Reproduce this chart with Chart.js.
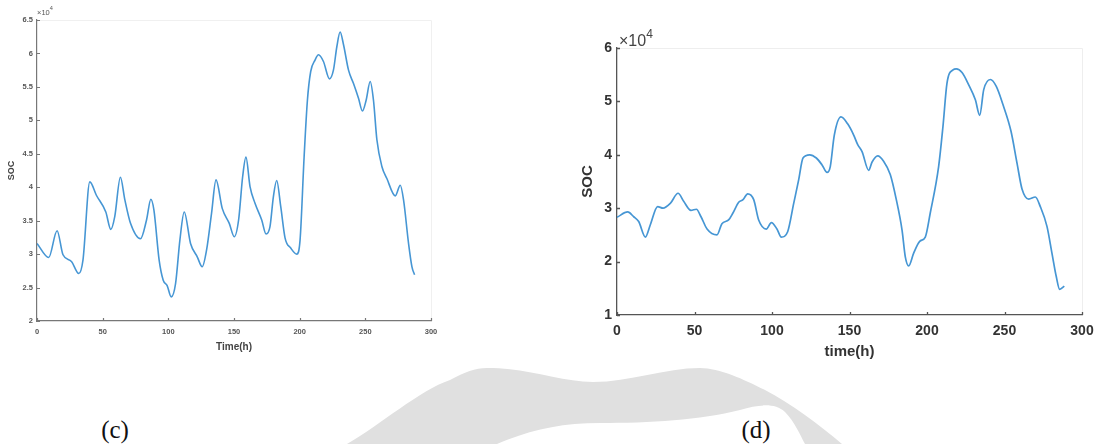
<!DOCTYPE html>
<html>
<head>
<meta charset="utf-8">
<script src="https://cdn.jsdelivr.net/npm/chart.js@4.4.1/dist/chart.umd.min.js"></script>
<style>
  html, body { margin: 0; padding: 0; background: #fff; }
  body { width: 1095px; height: 444px; position: relative; overflow: hidden; font-family: "Liberation Sans", Arial, sans-serif; }
  canvas { position: absolute; }
  #chartC { left: 0; top: 0; }
  #chartD { left: 560px; top: 0; }
  .exp { position: absolute; color: #555; white-space: nowrap; }
  .exp sup { font-size: 75%; position: relative; top: -0.15em; }
  .cap { position: absolute; font-family: "Liberation Serif", "Times New Roman", serif; font-size: 25px; color: #111; transform: translate(-50%, -50%); }
  #mark { position: absolute; left: 0; top: 0; }
</style>
</head>
<body>
<svg id="mark" width="1095" height="444">
  <path d="M347,444 C380,425 420,390 450,380 C465,372 475,368 487,368 C530,368 560,382 593,382 C630,382 665,368 700,368 C720,368 745,380 765,390 C790,403 820,425 842,444 L805,444 C800,435 795,422 785,412 C775,403 760,404 740,410 C700,420 650,423 600,423 C560,423 530,430 497,444 Z" fill="#e0e0e0"/>
</svg>
<canvas id="chartC" width="450" height="360"></canvas>
<canvas id="chartD" width="535" height="380"></canvas>
<div class="exp" style="left:37px; top:6px; font-size:7.5px;">×10<sup>4</sup></div>
<div class="exp" style="left:619px; top:29px; font-size:16px; color:#444;">×10<sup>4</sup></div>
<div class="cap" style="left:115px; top:430px;">(c)</div>
<div class="cap" style="left:756px; top:430px;">(d)</div>
<script>
// Panel (c): SOC over time (values in units of 1e4)
const timeC = [0, 8.9, 15.3, 19.8, 26.2, 31.8, 35, 40.2, 45.2, 52.4, 56.2, 59.2, 63.5, 66.9, 71.2, 78.8, 83.4, 86.7, 89, 93, 96.1, 99.1, 102.2, 105.5, 108.8, 112.1, 116.9, 122, 125.8, 129.1, 132.9, 136.3, 141.1, 146.4, 150.2, 153.5, 156.6, 159.1, 162.2, 166, 171.1, 174.4, 177.4, 180, 182.5, 185.6, 188.9, 193.2, 197.8, 200.3, 203.4, 205.9, 208.4, 211.7, 214.3, 218.1, 222.7, 225.7, 228.3, 230.8, 233.4, 237.2, 241, 244.8, 247.8, 250.6, 253.7, 256.2, 258.8, 262.6, 266.4, 272.8, 276.6, 279.1, 282.9, 285.5, 287.5];
const socC = [3.16, 2.95, 3.35, 2.99, 2.89, 2.71, 2.91, 4.08, 3.88, 3.63, 3.37, 3.56, 4.15, 3.81, 3.46, 3.23, 3.51, 3.82, 3.66, 2.91, 2.61, 2.53, 2.36, 2.56, 3.21, 3.63, 3.16, 2.96, 2.81, 3.06, 3.61, 4.11, 3.68, 3.46, 3.26, 3.51, 4.16, 4.45, 4.01, 3.76, 3.51, 3.30, 3.41, 3.86, 4.10, 3.71, 3.24, 3.09, 3.00, 3.21, 4.46, 5.30, 5.73, 5.90, 5.98, 5.88, 5.62, 5.75, 6.10, 6.32, 6.13, 5.75, 5.55, 5.33, 5.14, 5.30, 5.58, 5.30, 4.71, 4.31, 4.13, 3.87, 4.03, 3.81, 3.16, 2.81, 2.69];

// Panel (d): SOC over time (values in units of 1e4)
const timeD = [0, 6.9, 10.8, 14, 18.3, 21.5, 26.2, 29.7, 34.4, 39.4, 43, 47.7, 51.2, 54.2, 58.1, 64.5, 67.7, 72, 74.8, 78.5, 81.3, 84.3, 88.2, 91.4, 96.3, 99.6, 103.2, 106, 110.1, 114, 117.2, 120, 124.3, 128.6, 132.3, 135.5, 137.6, 140.2, 144.5, 148.8, 152.7, 155.3, 158.1, 162.4, 164.5, 168.2, 172, 176.3, 180.2, 183.9, 186, 188.2, 191.4, 195.3, 198.9, 202.1, 207.5, 210.3, 212.9, 216.8, 218.9, 222.6, 226.9, 231.2, 234, 236.6, 240.9, 244.7, 249, 254.2, 258.1, 261.3, 265.6, 269.9, 273.1, 277.4, 280.6, 283.4, 285.6, 288.6];
const socD = [2.83, 2.93, 2.84, 2.75, 2.46, 2.69, 3.03, 3.00, 3.09, 3.28, 3.13, 2.96, 2.98, 2.84, 2.61, 2.50, 2.71, 2.78, 2.91, 3.11, 3.16, 3.27, 3.16, 2.78, 2.61, 2.73, 2.61, 2.46, 2.56, 3.09, 3.53, 3.94, 4.00, 3.94, 3.81, 3.67, 3.78, 4.37, 4.71, 4.58, 4.37, 4.19, 4.06, 3.71, 3.86, 3.98, 3.88, 3.63, 3.16, 2.59, 2.09, 1.92, 2.16, 2.38, 2.46, 2.91, 3.78, 4.53, 5.34, 5.59, 5.61, 5.54, 5.31, 5.03, 4.74, 5.22, 5.41, 5.28, 4.94, 4.44, 3.84, 3.36, 3.17, 3.21, 3.03, 2.66, 2.16, 1.72, 1.48, 1.54];

const xTicks = [0, 50, 100, 150, 200, 250, 300];
const yTicksC = [2, 2.5, 3, 3.5, 4, 4.5, 5, 5.5, 6, 6.5];
const yTicksD = [1, 2, 3, 4, 5, 6];

const LINE = '#4696d4';

// Frame: faint top/right box edges plus short inward tick marks
const framePlugin = {
  id: 'frame',
  afterDraw(chart, args, opts) {
    const { ctx, chartArea: a, scales } = chart;
    ctx.save();
    ctx.strokeStyle = opts.boxColor;
    ctx.lineWidth = 1;
    ctx.beginPath();
    ctx.moveTo(a.left, a.top + 0.5);
    ctx.lineTo(a.right + 0.5, a.top + 0.5);
    ctx.lineTo(a.right + 0.5, a.bottom);
    ctx.stroke();
    ctx.strokeStyle = opts.tickColor;
    ctx.lineWidth = opts.tickWidth;
    ctx.beginPath();
    scales.x.ticks.forEach(t => {
      const px = Math.round(scales.x.getPixelForValue(t.value)) + 0.5;
      ctx.moveTo(px, a.bottom);
      ctx.lineTo(px, a.bottom - opts.len);
    });
    scales.y.ticks.forEach(t => {
      const py = Math.round(scales.y.getPixelForValue(t.value)) + 0.5;
      ctx.moveTo(a.left, py);
      ctx.lineTo(a.left + opts.len, py);
    });
    ctx.stroke();
    ctx.restore();
  }
};

function makeChart(id, times, values, cfg) {
  const pts = times.map((t, i) => ({ x: t, y: values[i] }));
  return new Chart(document.getElementById(id), {
    type: 'line',
    data: { datasets: [{ data: pts, borderColor: LINE, borderWidth: cfg.lineWidth, pointRadius: 0, cubicInterpolationMode: 'monotone', fill: false }] },
    plugins: [framePlugin],
    options: {
      responsive: false,
      animation: false,
      devicePixelRatio: 1,
      layout: { padding: cfg.padding },
      plugins: {
        legend: { display: false },
        tooltip: { enabled: false },
        frame: { boxColor: cfg.boxColor, tickColor: cfg.axisColor, tickWidth: cfg.axisWidth, len: cfg.tickLen }
      },
      scales: {
        x: {
          type: 'linear', min: 0, max: 300,
          afterBuildTicks: s => { s.ticks = xTicks.map(v => ({ value: v })); },
          afterFit: s => { s.height = cfg.xHeight; s.paddingLeft = 0; s.paddingRight = 0; },
          grid: { display: false, drawTicks: false },
          border: { display: true, color: cfg.axisColor, width: cfg.axisWidth },
          ticks: { padding: cfg.xTickPad, color: cfg.tickColor, font: cfg.tickFont, maxRotation: 0, autoSkip: false },
          title: { display: true, text: cfg.xTitle, color: cfg.titleColor, font: cfg.xTitleFont, padding: { top: 0, bottom: 0 } }
        },
        y: {
          type: 'linear', min: cfg.yMin, max: cfg.yMax,
          afterBuildTicks: s => { s.ticks = cfg.yTicks.map(v => ({ value: v })); },
          afterFit: s => { s.width = cfg.yWidth; s.paddingTop = 0; s.paddingBottom = 0; },
          grid: { display: false, drawTicks: false },
          border: { display: true, color: cfg.axisColor, width: cfg.axisWidth },
          ticks: { padding: cfg.yTickPad, color: cfg.tickColor, font: cfg.tickFont, autoSkip: false, callback: v => String(v) },
          title: { display: true, text: 'SOC', color: cfg.titleColor, font: cfg.yTitleFont, padding: { top: cfg.yTitlePad, bottom: 0 } }
        }
      }
    }
  });
}

makeChart('chartC', timeC, socC, {
  padding: { left: 0, top: 20, right: 19, bottom: 7 },
  xHeight: 32, yWidth: 37,
  xTickPad: 6, yTickPad: 4,
  tickFont: { family: 'Liberation Sans', size: 7.5, weight: 'bold' },
  tickColor: '#555', titleColor: '#444',
  xTitle: 'Time(h)',
  xTitleFont: { family: 'Liberation Sans', size: 10, weight: 'bold' },
  yTitleFont: { family: 'Liberation Sans', size: 9, weight: 'bold' },
  yTitlePad: 6,
  yMin: 2, yMax: 6.5, yTicks: yTicksC,
  axisColor: '#777', axisWidth: 1.2, boxColor: '#f0f0f0', tickLen: 3,
  lineWidth: 1.6
});

makeChart('chartD', timeD, socD, {
  padding: { left: 0, top: 48, right: 13, bottom: 19 },
  xHeight: 46, yWidth: 57,
  xTickPad: 8, yTickPad: 5,
  tickFont: { family: 'Liberation Sans', size: 14, weight: 'bold' },
  tickColor: '#333', titleColor: '#333',
  xTitle: 'time(h)',
  xTitleFont: { family: 'Liberation Sans', size: 15, weight: 'bold' },
  yTitleFont: { family: 'Liberation Sans', size: 15, weight: 'bold' },
  yTitlePad: 19,
  yMin: 1, yMax: 6, yTicks: yTicksD,
  axisColor: '#555', axisWidth: 1.3, boxColor: '#eeeeee', tickLen: 3,
  lineWidth: 1.7
});
</script>
</body>
</html>
